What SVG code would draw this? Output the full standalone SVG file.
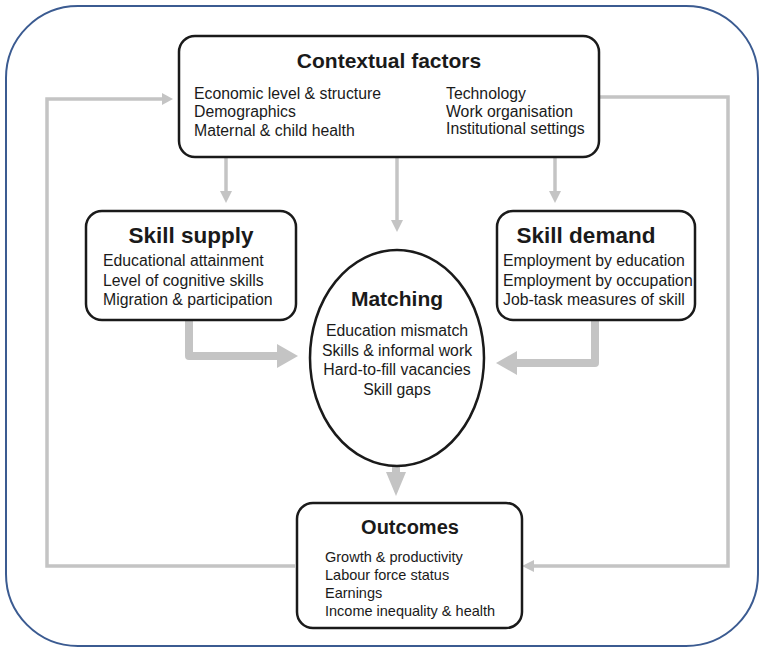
<svg xmlns="http://www.w3.org/2000/svg" width="765" height="650" viewBox="0 0 765 650">
<defs>
<style>
.box{fill:#fff;stroke:#1a1a1a;stroke-width:2.5}
.title{font-family:"Liberation Sans",Arial,sans-serif;font-weight:bold;font-size:21px;fill:#1a1a1a}
.big{font-size:22.5px}
.body{font-family:"Liberation Sans",Arial,sans-serif;font-size:15.8px;fill:#1a1a1a}
.small{font-family:"Liberation Sans",Arial,sans-serif;font-size:14.5px;fill:#1a1a1a}
.thin{fill:none;stroke:#c4c4c4;stroke-width:3.5}
.thick{fill:none;stroke:#c4c4c4;stroke-width:8}
.head{fill:#c4c4c4}
</style>
</defs>
<rect x="6" y="6" width="752" height="640" rx="72" ry="72" fill="#fff" stroke="#3b5b91" stroke-width="2"/>
<g id="connectors">
<path class="thin" d="M295,566 H47 V99 H163"/>
<polygon class="head" points="162,93 173,99 162,105"/>
<path class="thin" d="M600,97 H728 V566 H533"/>
<polygon class="head" points="534,560 522,566 534,572"/>
<path class="thin" d="M226,157 V192"/>
<polygon class="head" points="220,191 226,203 232,191"/>
<path class="thin" d="M397,157 V221"/>
<polygon class="head" points="391,220 397,232 403,220"/>
<path class="thin" d="M555,157 V192"/>
<polygon class="head" points="549,191 555,203 561,191"/>
<path class="thick" d="M189,320 V356 H278" stroke-linejoin="round"/>
<polygon class="head" points="277,344 298,356 277,368"/>
<path class="thick" d="M595,320 V363 H516" stroke-linejoin="round"/>
<polygon class="head" points="517,351 496,363 517,375"/>
<path class="thick" d="M396,466 V473"/>
<polygon class="head" points="386,472 396,496 406,472"/>
</g>
<g id="contextual">
<rect class="box" x="179" y="36" width="420" height="121" rx="16"/>
<text class="title" x="389" y="68" text-anchor="middle">Contextual factors</text>
<text class="body" x="194" y="99">Economic level &amp; structure</text>
<text class="body" x="194" y="117">Demographics</text>
<text class="body" x="194" y="136">Maternal &amp; child health</text>
<text class="body" x="446" y="99">Technology</text>
<text class="body" x="446" y="117">Work organisation</text>
<text class="body" x="446" y="134">Institutional settings</text>
</g>
<g id="supply">
<rect class="box" x="86" y="211" width="210" height="109" rx="16"/>
<text class="title big" x="191" y="243" text-anchor="middle">Skill supply</text>
<text class="body" x="103" y="266">Educational attainment</text>
<text class="body" x="103" y="286">Level of cognitive skills</text>
<text class="body" x="103" y="305">Migration &amp; participation</text>
</g>
<g id="demand">
<rect class="box" x="497" y="211" width="198" height="109" rx="16"/>
<text class="title big" x="586" y="243" text-anchor="middle">Skill demand</text>
<text class="body" x="503" y="266">Employment by education</text>
<text class="body" x="503" y="286">Employment by occupation</text>
<text class="body" x="503" y="305">Job-task measures of skill</text>
</g>
<g id="matching">
<ellipse class="box" cx="397" cy="358" rx="87" ry="108"/>
<text class="title" x="397" y="306" text-anchor="middle">Matching</text>
<text class="body" x="397" y="336" text-anchor="middle">Education mismatch</text>
<text class="body" x="397" y="356" text-anchor="middle">Skills &amp; informal work</text>
<text class="body" x="397" y="375" text-anchor="middle">Hard-to-fill vacancies</text>
<text class="body" x="397" y="395" text-anchor="middle">Skill gaps</text>
</g>
<g id="outcomes">
<rect class="box" x="297" y="503" width="225" height="125" rx="16"/>
<text class="title" x="410" y="534" text-anchor="middle" style="font-size:20px">Outcomes</text>
<text class="small" x="325" y="562">Growth &amp; productivity</text>
<text class="small" x="325" y="580">Labour force status</text>
<text class="small" x="325" y="598">Earnings</text>
<text class="small" x="325" y="616">Income inequality &amp; health</text>
</g>
</svg>
